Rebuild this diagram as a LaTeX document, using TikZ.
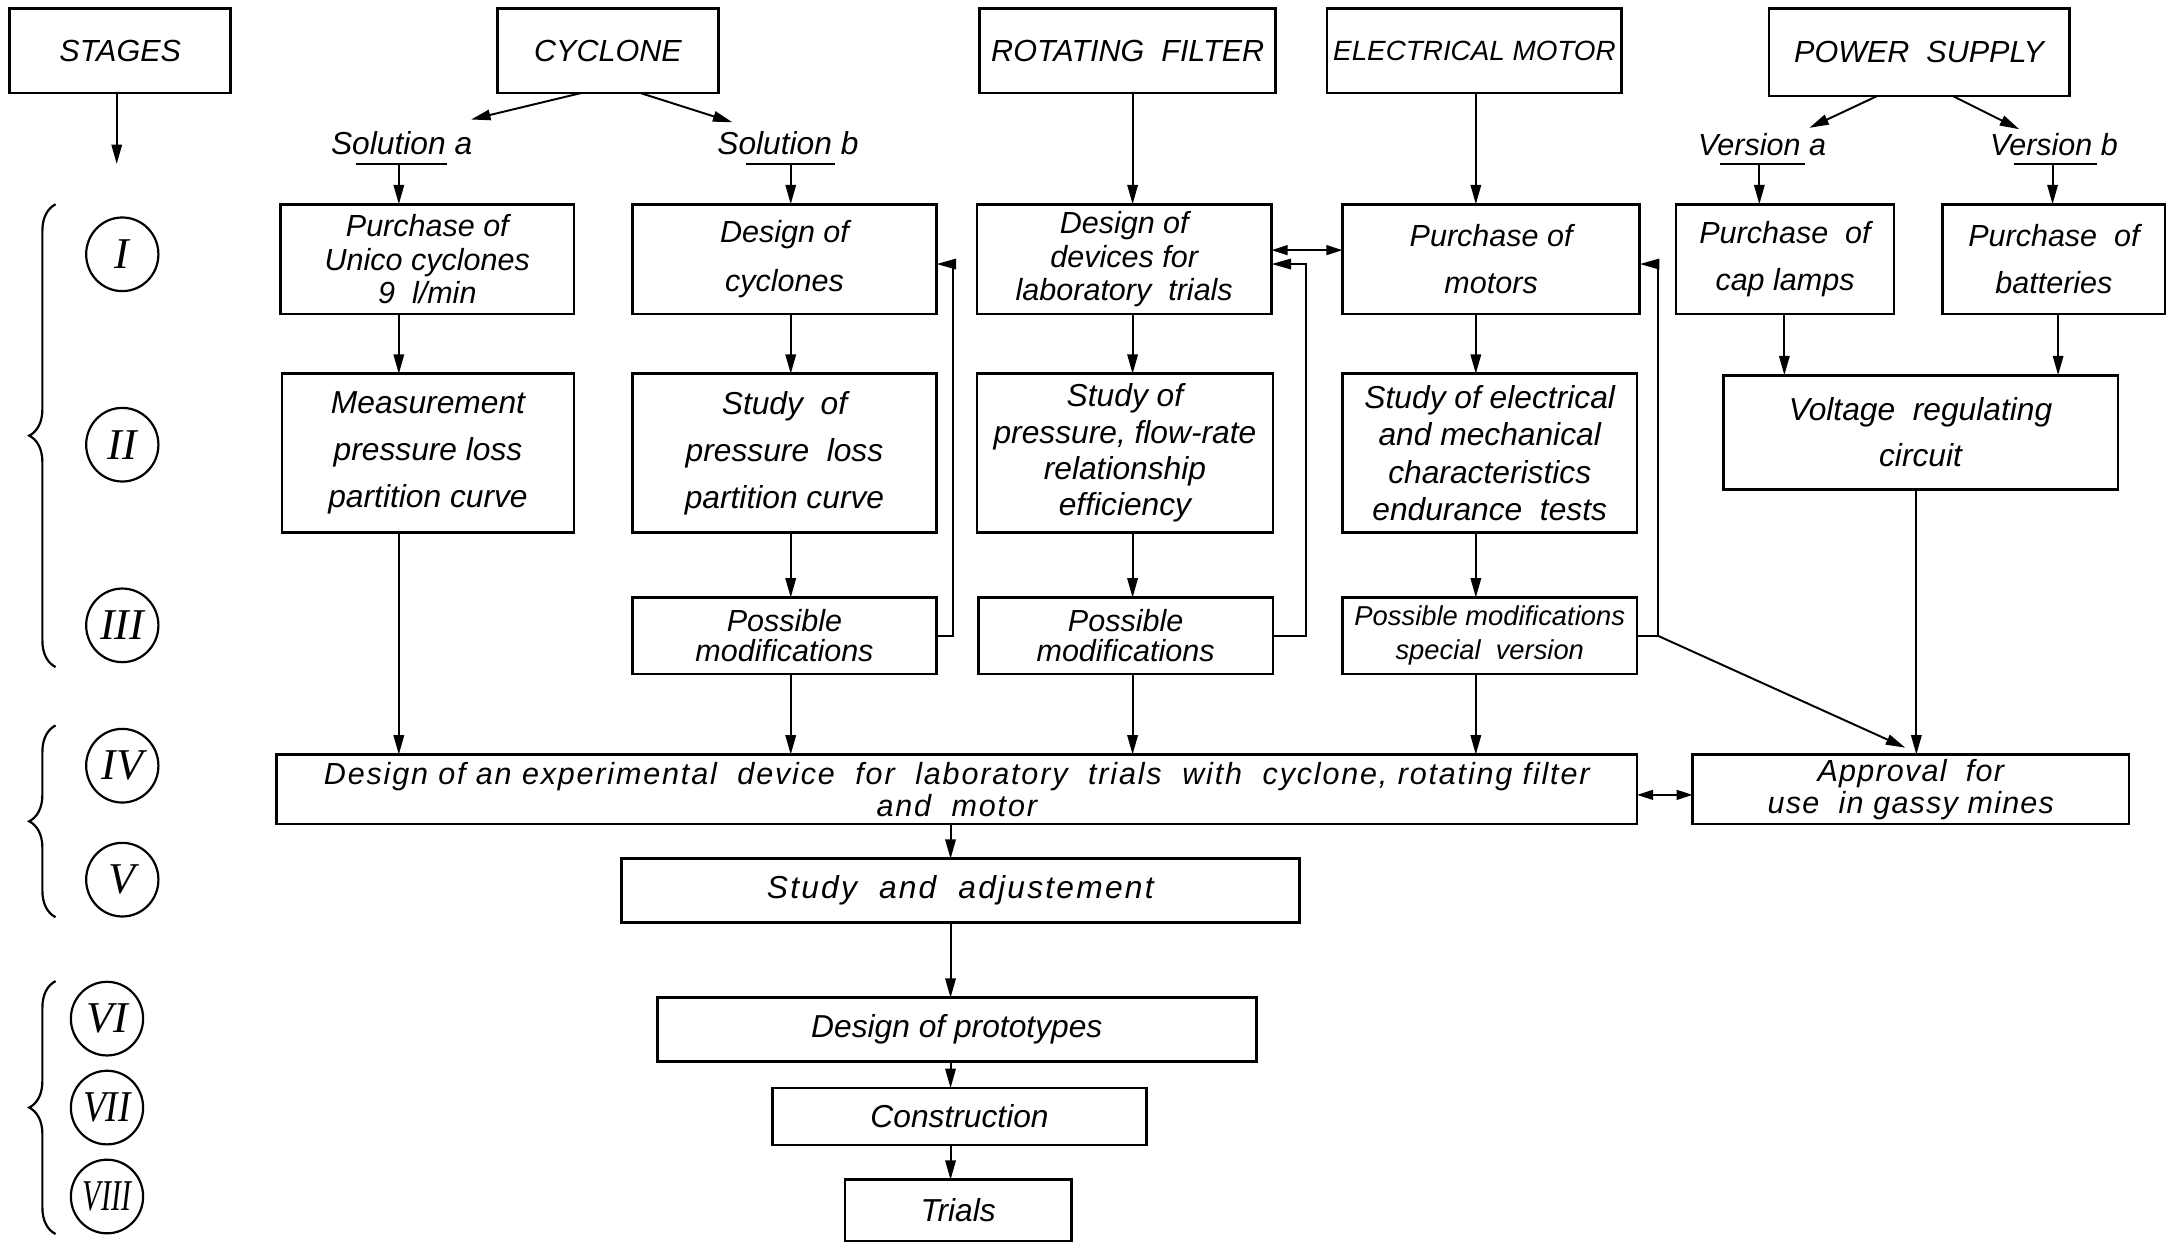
\documentclass[tikz,border=0pt]{standalone}
\usepackage{fontspec}
\usepackage{graphicx}
\setmainfont{Liberation Sans}
\newfontfamily\romf{Liberation Serif}
\usetikzlibrary{arrows.meta,decorations.pathreplacing,shapes.geometric}
\newcommand\fs[2]{\fontsize{#1}{#2}\selectfont}
\newcommand\ls[1]{\addfontfeature{LetterSpace=#1}}
\newcommand\bx[7]{\node[box,font=\itshape#7,minimum width={(#4-#2)*0.02cm},minimum height={(#5-#3)*0.02cm}] (#1) at ({(#2+#4)/2},{(#3+#5)/2}) {#6};}
\begin{document}
\begin{tikzpicture}[x=0.02cm,y=-0.02cm,
  box/.style={draw,line width=1.1pt,inner sep=0pt,outer sep=0pt,align=center},
  lbl/.style={inner sep=0pt,font=\itshape\fs{12.5}{14}},
  arr/.style={line width=0.8pt,-{Triangle[length=2.8mm,width=1.5mm]}},
  darr/.style={line width=0.8pt,{Triangle[length=2.3mm,width=1.4mm]}-{Triangle[length=2.3mm,width=1.4mm]}},
  ln/.style={line width=0.8pt},
  stg/.style={draw,ellipse,line width=0.9pt,minimum width=1.04cm,minimum height=1.06cm,inner sep=0pt,font=\romf\itshape\fs{18}{18}},
  brc/.style={line width=0.9pt,decorate,decoration={brace,amplitude=0.38cm}}]
\useasboundingbox (0,0) rectangle (1568,895);

% header boxes
\bx{stages}{7}{6}{166}{67}{STAGES}{\fs{12.5}{14}}
\bx{cyc}{358}{6}{517}{67}{CYCLONE}{\fs{12.5}{14}}
\bx{rot}{705}{6}{918}{67}{ROTATING\ \ FILTER}{\fs{12.5}{14}}
\bx{ele}{955}{6}{1167}{67}{ELECTRICAL\ MOTOR}{\fs{11.4}{14}}
\bx{pow}{1273}{6}{1489}{69}{POWER\ \ SUPPLY}{\fs{12.5}{14}}

% labels
\node[lbl,font=\itshape\fs{13}{14}] (sola) at (289,103) {Solution\ a};
\node[lbl,font=\itshape\fs{13}{14}] (solb) at (567,103) {Solution\ b};
\node[lbl] (vera) at (1268,104) {Version\ a};
\node[lbl] (verb) at (1478,104) {Version\ b};

% row I
\bx{pA1}{202}{147}{413}{226}{Purchase of\\Unico cyclones\\9\ \ l/min}{\fs{12.5}{13.6}}
\bx{dB1}{455}{147}{674}{226}{Design of\\cyclones}{\fs{12.5}{20}}
\bx{dF1}{703}{147}{915}{226}{Design of\\devices for\\laboratory\ \ trials}{\fs{12.5}{13.6}}
\bx{pM1}{966}{147}{1180}{226}{Purchase of\\motors}{\fs{12.5}{19.5}}
\bx{capl}{1206}{147}{1363}{226}{Purchase\ \ of\\cap\ lamps}{\fs{12.5}{19.5}}
\bx{batt}{1398}{147}{1558}{226}{Purchase\ \ of\\batteries}{\fs{12.5}{19.5}}

% row II
\bx{mA2}{203}{269}{413}{383}{Measurement\\pressure loss\\partition curve}{\fs{13}{19.3}}
\bx{sB2}{455}{269}{674}{383}{Study\ \ of\\pressure\ \ loss\\partition curve}{\fs{13}{19.3}}
\bx{sF2}{703}{269}{916}{383}{Study of\\pressure, flow-rate\\relationship\\efficiency}{\fs{13}{14.9}}
\bx{sM2}{966}{269}{1178}{383}{Study of electrical\\and mechanical\\characteristics\\endurance\ \ tests}{\fs{13}{15.3}}
\bx{volt}{1240}{270}{1524}{352}{Voltage\ \ regulating\\circuit}{\fs{13}{18.7}}

% row III
\bx{pmB}{455}{430}{674}{485}{Possible\\modifications}{\fs{12.5}{12.5}}
\bx{pmF}{704}{430}{916}{485}{Possible\\modifications}{\fs{12.5}{12.5}}
\bx{pmM}{966}{430}{1178}{485}{Possible modifications\\special\ \ version}{\fs{11.2}{14}}

% row IV and below
\bx{exp}{199}{543}{1178}{593}{Design of an experimental\ \ device\ \ for\ \ laboratory\ \ trials\ \ with\ \ cyclone, rotating filter\\and\ \ motor}{\fs{12.5}{13}\ls{6}}
\bx{app}{1218}{543}{1532}{593}{Approval\ \ for\\use\ \ in\ gassy\ mines}{\fs{12.5}{13}\ls{4}}
\bx{study}{447}{618}{935}{664}{Study\ \ and\ \ adjustement}{\fs{13}{14}\ls{7}}
\bx{proto}{473}{718}{904}{764}{Design of prototypes}{\fs{13}{14}}
\bx{constr}{556}{783}{825}{824}{Construction}{\fs{13}{14}}
\bx{trials}{608}{849}{771}{893}{Trials}{\fs{13}{14}}

% stage circles
\node[stg] (s1) at (88,183) {I};
\node[stg] (s2) at (88,320) {II};
\node[stg] (s3) at (88,450) {III};
\node[stg] (s4) at (88,551) {IV};
\node[stg] (s5) at (88,633) {V};
\node[stg] (s6) at (77,733) {VI};
\node[stg] (s7) at (77,797) {\scalebox{0.85}[1]{VII}};
\node[stg] (s8) at (77,861) {\scalebox{0.68}[1]{VIII}};

% braces
\coordinate (b1a) at (40,480); \coordinate (b1b) at (40,147);
\coordinate (b2a) at (40,660); \coordinate (b2b) at (40,522);
\coordinate (b3a) at (40,888); \coordinate (b3b) at (40,706);
\draw[brc] (b1a) -- (b1b);
\draw[brc] (b2a) -- (b2b);
\draw[brc] (b3a) -- (b3b);

% helper coordinates
\coordinate (xS) at (84,0);
\coordinate (stgE) at (84,118);
\coordinate (xA) at (287,0);
\coordinate (xB) at (569,0);
\coordinate (xR) at (815,0);
\coordinate (xM) at (1062,0);
\coordinate (xCap) at (1284,0);
\coordinate (xBat) at (1481,0);
\coordinate (xV) at (1379,0);
\coordinate (xVa) at (1266,0);
\coordinate (xVb) at (1477,0);
\coordinate (xBot) at (684,0);
\coordinate (fb1) at (686,0);
\coordinate (fb2) at (940,0);
\coordinate (fb3) at (1193,0);
\coordinate (yFb) at (0,190);
\coordinate (yD1) at (0,180);
\coordinate (yD2) at (0,572);
\coordinate (cA0) at (418,0);
\coordinate (cAE) at (339,86);
\coordinate (cB0) at (461,0);
\coordinate (cBE) at (527,88);
\coordinate (pA0) at (1351,0);
\coordinate (pAE) at (1302,92);
\coordinate (pB0) at (1405,0);
\coordinate (pBE) at (1453,93);
\coordinate (uA1) at (256,118); \coordinate (uA2) at (322,118);
\coordinate (uB1) at (537,118); \coordinate (uB2) at (601,118);
\coordinate (uVa1) at (1238,118); \coordinate (uVa2) at (1299,118);
\coordinate (uVb1) at (1449,118); \coordinate (uVb2) at (1509,118);
\coordinate (dgE) at (1371,538);

% underlines
\draw[ln] (uA1) -- (uA2);
\draw[ln] (uB1) -- (uB2);
\draw[ln] (uVa1) -- (uVa2);
\draw[ln] (uVb1) -- (uVb2);

% header arrows
\draw[arr] (stages.south -| xS) -- (stgE);
\draw[arr] (cyc.south -| cA0) -- (cAE);
\draw[arr] (cyc.south -| cB0) -- (cBE);
\draw[arr] (pow.south -| pA0) -- (pAE);
\draw[arr] (pow.south -| pB0) -- (pBE);
\draw[arr] (xA |- uA1) -- (pA1.north -| xA);
\draw[arr] (xB |- uB1) -- (dB1.north -| xB);
\draw[arr] (xVa |- uVa1) -- (capl.north -| xVa);
\draw[arr] (xVb |- uVb1) -- (batt.north -| xVb);
\draw[arr] (rot.south -| xR) -- (dF1.north -| xR);
\draw[arr] (ele.south -| xM) -- (pM1.north -| xM);

% column A
\draw[arr] (pA1.south -| xA) -- (mA2.north -| xA);
\draw[arr] (mA2.south -| xA) -- (exp.north -| xA);
% column B
\draw[arr] (dB1.south -| xB) -- (sB2.north -| xB);
\draw[arr] (sB2.south -| xB) -- (pmB.north -| xB);
\draw[arr] (pmB.south -| xB) -- (exp.north -| xB);
% column R
\draw[arr] (dF1.south -| xR) -- (sF2.north -| xR);
\draw[arr] (sF2.south -| xR) -- (pmF.north -| xR);
\draw[arr] (pmF.south -| xR) -- (exp.north -| xR);
% column M
\draw[arr] (pM1.south -| xM) -- (sM2.north -| xM);
\draw[arr] (sM2.south -| xM) -- (pmM.north -| xM);
\draw[arr] (pmM.south -| xM) -- (exp.north -| xM);
% power
\draw[arr] (capl.south -| xCap) -- (volt.north -| xCap);
\draw[arr] (batt.south -| xBat) -- (volt.north -| xBat);
\draw[arr] (volt.south -| xV) -- (app.north -| xV);

% feedback loops
\draw[arr] (pmB.east) -| (fb1 |- yFb) -- (dB1.east |- yFb);
\draw[arr] (pmF.east) -| (fb2 |- yFb) -- (dF1.east |- yFb);
\draw[arr] (pmM.east) -| (fb3 |- yFb) -- (pM1.east |- yFb);
\draw[arr] (pmM.east -| fb3) -- (dgE);
\draw[darr] (dF1.east |- yD1) -- (pM1.west |- yD1);
\draw[darr] (exp.east |- yD2) -- (app.west |- yD2);

% bottom chain
\draw[arr] (exp.south -| xBot) -- (study.north -| xBot);
\draw[arr] (study.south -| xBot) -- (proto.north -| xBot);
\draw[arr] (proto.south -| xBot) -- (constr.north -| xBot);
\draw[arr] (constr.south -| xBot) -- (trials.north -| xBot);
\end{tikzpicture}
\end{document}
